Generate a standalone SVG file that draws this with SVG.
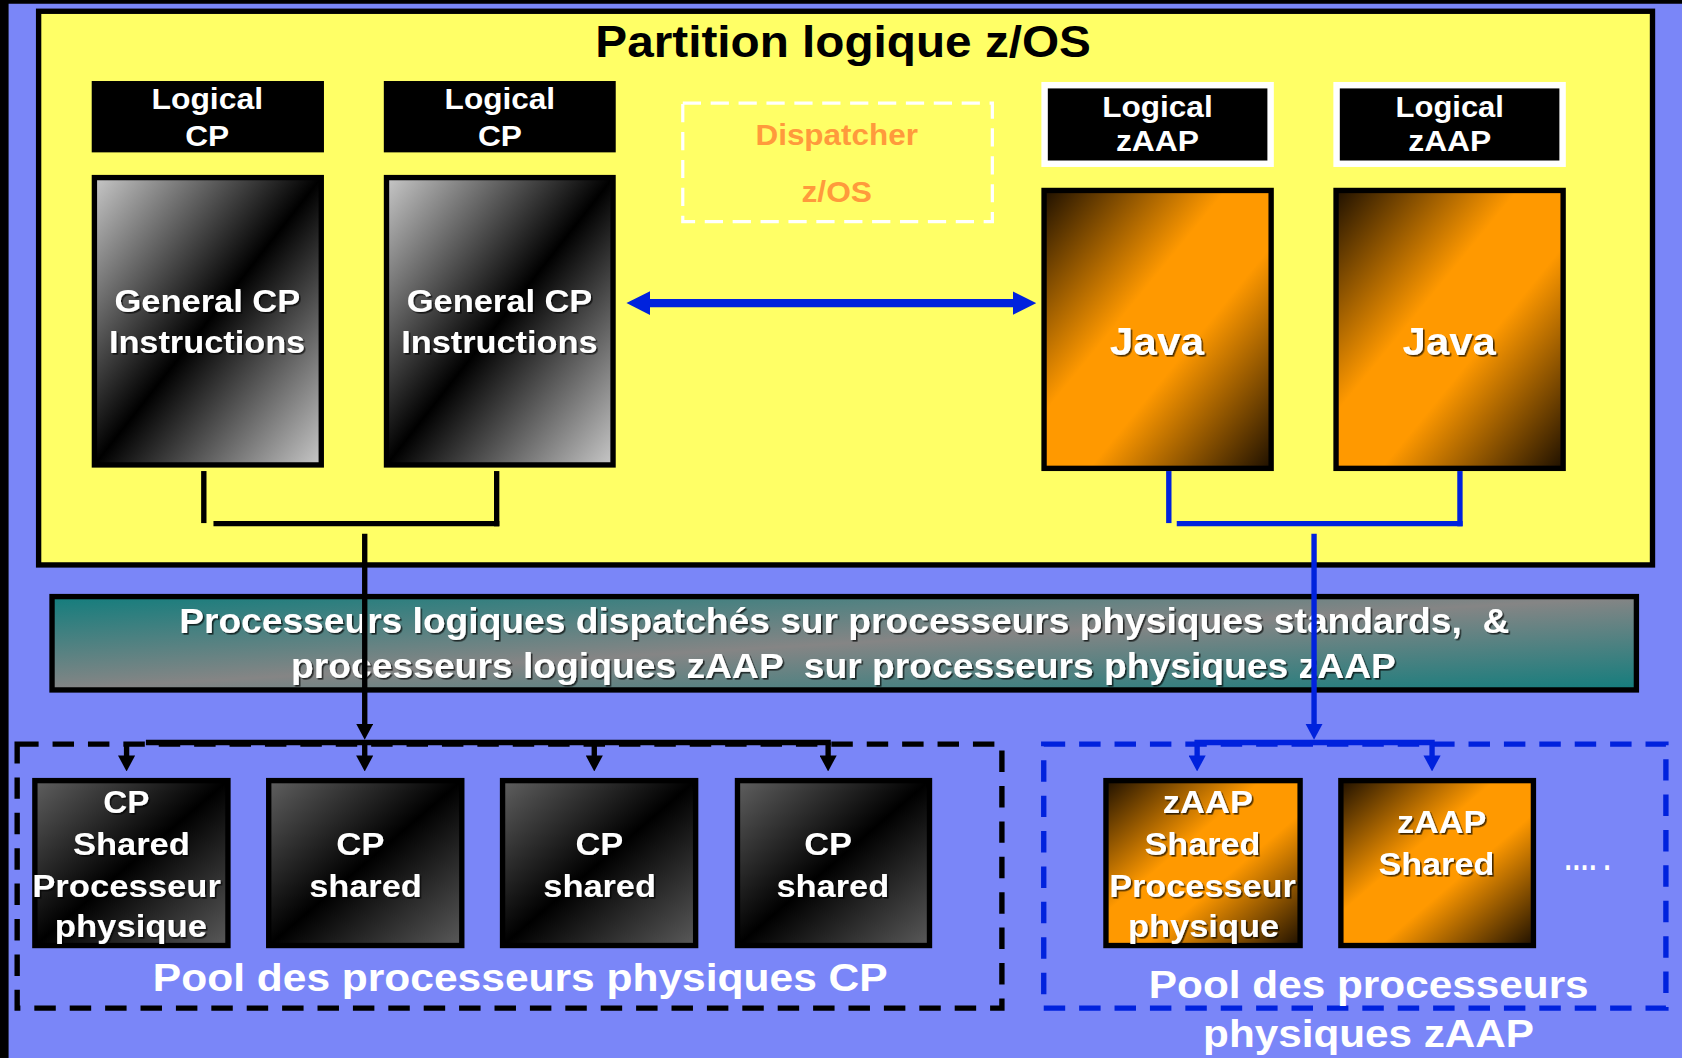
<svg xmlns="http://www.w3.org/2000/svg" width="1682" height="1058" viewBox="0 0 1682 1058">
<defs>
<style>
.t{font-family:"Liberation Sans",Arial,Helvetica,sans-serif;font-weight:bold;text-anchor:middle}
.w{fill:#FFFFFF}
.sh{filter:url(#sh)}
.pre{white-space:pre}
.box{stroke:#000;stroke-width:5}
.bl{fill:none;stroke:#000;stroke-width:5}
.bu{fill:none;stroke:#0022DD;stroke-width:5}
</style>
<linearGradient id="gGray" x1="0" y1="0" x2="1" y2="1"><stop offset="0" stop-color="#C8C8C8"/><stop offset="0.5" stop-color="#000000"/><stop offset="1" stop-color="#C8C8C8"/></linearGradient>
<linearGradient id="gDark" x1="0" y1="0" x2="1" y2="1"><stop offset="0" stop-color="#606060"/><stop offset="0.5" stop-color="#000000"/><stop offset="1" stop-color="#5A5A5A"/></linearGradient>
<linearGradient id="gOr" x1="0" y1="0" x2="1" y2="1"><stop offset="0" stop-color="#1E1000"/><stop offset="0.4" stop-color="#FF9900"/><stop offset="0.6" stop-color="#FF9900"/><stop offset="1" stop-color="#1E1000"/></linearGradient>
<linearGradient id="gTeal" x1="0" y1="0" x2="1" y2="1"><stop offset="0" stop-color="#137D7D"/><stop offset="0.5" stop-color="#858585"/><stop offset="1" stop-color="#137D7D"/></linearGradient>
<filter id="sh" x="-10%" y="-20%" width="120%" height="150%"><feDropShadow dx="1.5" dy="1.5" stdDeviation="0.6" flood-color="#000" flood-opacity="0.7"/></filter>
<marker id="ahK" markerUnits="userSpaceOnUse" viewBox="0 0 15 16" markerWidth="15" markerHeight="16" refX="7.5" refY="8" orient="auto"><path d="M0,0 L15,8 L0,16 Z" fill="#000"/></marker>
<marker id="ahB" markerUnits="userSpaceOnUse" viewBox="0 0 15 16" markerWidth="15" markerHeight="16" refX="7.5" refY="8" orient="auto"><path d="M0,0 L15,8 L0,16 Z" fill="#0022DD"/></marker>
<marker id="ahD" markerUnits="userSpaceOnUse" viewBox="0 0 22 22" markerWidth="22" markerHeight="22" refX="11" refY="11" orient="auto-start-reverse"><path d="M0,0 L22,11 L0,22 Z" fill="#0022DD"/></marker>
</defs>
<rect x="0" y="0" width="1682" height="1058" fill="#7A86F8"/>
<g transform="scale(1.0727,1.0730)">
<rect x="0" y="0" width="8" height="986" fill="#000"/>
<rect x="0" y="0" width="1568" height="3.5" fill="#000"/>

<g id="partition">
<rect x="36" y="10.5" width="1504.5" height="516" fill="#FFFF66" stroke="#000" stroke-width="5"/>
<text class="t" x="786" y="53" font-size="41" fill="#000" textLength="462" lengthAdjust="spacingAndGlyphs">Partition logique z/OS</text>
</g>

<g id="logical-cp-1">
<rect x="85.5" y="75.5" width="216.5" height="66.5" fill="#000"/>
<text class="t w" x="193.2" y="102" font-size="28" textLength="104" lengthAdjust="spacingAndGlyphs">Logical</text>
<text class="t w" x="193.2" y="136" font-size="28" textLength="41" lengthAdjust="spacingAndGlyphs">CP</text>
</g>
<g id="logical-cp-2">
<rect x="357.8" y="75.5" width="216.2" height="66.5" fill="#000"/>
<text class="t w" x="466" y="102" font-size="28" textLength="103" lengthAdjust="spacingAndGlyphs">Logical</text>
<text class="t w" x="466" y="136" font-size="28" textLength="41" lengthAdjust="spacingAndGlyphs">CP</text>
</g>
<g id="general-cp-1">
<rect class="box" x="88" y="165.5" width="211.5" height="267.8" fill="url(#gGray)"/>
<text class="t w sh" x="193.3" y="290.5" font-size="30" textLength="173" lengthAdjust="spacingAndGlyphs">General CP</text>
<text class="t w sh" x="193" y="329" font-size="30" textLength="183" lengthAdjust="spacingAndGlyphs">Instructions</text>
</g>
<g id="general-cp-2">
<rect class="box" x="360.3" y="165.5" width="211.2" height="267.8" fill="url(#gGray)"/>
<text class="t w sh" x="465.7" y="290.5" font-size="30" textLength="173" lengthAdjust="spacingAndGlyphs">General CP</text>
<text class="t w sh" x="465.5" y="329" font-size="30" textLength="183" lengthAdjust="spacingAndGlyphs">Instructions</text>
</g>
<g id="dispatcher">
<rect x="636.5" y="96.2" width="288.6" height="110.3" fill="none" stroke="#FFFFFF" stroke-width="3" stroke-dasharray="17 9"/>
<text class="t" x="780" y="135" font-size="27" fill="#FF9A3C" textLength="151.5" lengthAdjust="spacingAndGlyphs">Dispatcher</text>
<text class="t" x="780" y="188" font-size="27" fill="#FF9A3C" textLength="65.7" lengthAdjust="spacingAndGlyphs">z/OS</text>
</g>
<g id="logical-zaap-1">
<rect x="973.8" y="79.4" width="210.7" height="73.2" fill="#000" stroke="#FFFFFF" stroke-width="6"/>
<text class="t w" x="1079" y="109" font-size="28" textLength="103" lengthAdjust="spacingAndGlyphs">Logical</text>
<text class="t w" x="1079" y="141" font-size="28" textLength="77.4" lengthAdjust="spacingAndGlyphs">zAAP</text>
</g>
<g id="logical-zaap-2">
<rect x="1246" y="79.4" width="210.7" height="73.2" fill="#000" stroke="#FFFFFF" stroke-width="6"/>
<text class="t w" x="1351.5" y="109" font-size="28" textLength="101" lengthAdjust="spacingAndGlyphs">Logical</text>
<text class="t w" x="1351.5" y="141" font-size="28" textLength="77.4" lengthAdjust="spacingAndGlyphs">zAAP</text>
</g>
<g id="java-1">
<rect class="box" x="973.3" y="177.5" width="211.7" height="259" fill="url(#gOr)"/>
<text class="t w sh" x="1078.5" y="330.6" font-size="36" textLength="88" lengthAdjust="spacingAndGlyphs">Java</text>
</g>
<g id="java-2">
<rect class="box" x="1245.5" y="177.5" width="211.7" height="259" fill="url(#gOr)"/>
<text class="t w sh" x="1351" y="330.6" font-size="36" textLength="87" lengthAdjust="spacingAndGlyphs">Java</text>
</g>

<g id="banner">
<rect x="48.5" y="556" width="1477" height="87" fill="url(#gTeal)" stroke="#000" stroke-width="5"/>
<text class="t w sh pre" x="787" y="590" font-size="32" textLength="1240" lengthAdjust="spacingAndGlyphs">Processeurs logiques dispatchés sur processeurs physiques standards,  &amp;</text>
<text class="t w sh pre" x="786.3" y="632" font-size="32" textLength="1030" lengthAdjust="spacingAndGlyphs">processeurs logiques zAAP  sur processeurs physiques zAAP</text>
</g>

<g id="pool-cp">
<rect x="16" y="693.5" width="918" height="246" fill="none" stroke="#000" stroke-width="5" stroke-dasharray="20 13"/>
<text class="t w" x="485" y="924" font-size="37" textLength="685" lengthAdjust="spacingAndGlyphs">Pool des processeurs physiques CP</text>
</g>
<g id="cp-shared-1">
<rect class="box" x="32.5" y="727.5" width="180" height="153.7" fill="url(#gDark)"/>
<text class="t w sh" x="117.7" y="758" font-size="30" textLength="43" lengthAdjust="spacingAndGlyphs">CP</text>
<text class="t w sh" x="122.5" y="797" font-size="30" textLength="109" lengthAdjust="spacingAndGlyphs">Shared</text>
<text class="t w sh" x="118" y="836" font-size="30" textLength="176" lengthAdjust="spacingAndGlyphs">Processeur</text>
<text class="t w sh" x="122" y="873" font-size="30" textLength="142" lengthAdjust="spacingAndGlyphs">physique</text>
</g>
<g id="cp-shared-2">
<rect class="box" x="250.5" y="727.5" width="180" height="153.7" fill="url(#gDark)"/>
<text class="t w sh" x="336" y="797" font-size="30" textLength="45" lengthAdjust="spacingAndGlyphs">CP</text>
<text class="t w sh" x="340.7" y="836" font-size="30" textLength="105" lengthAdjust="spacingAndGlyphs">shared</text>
</g>
<g id="cp-shared-3">
<rect class="box" x="468.5" y="727.5" width="180" height="153.7" fill="url(#gDark)"/>
<text class="t w sh" x="558.7" y="797" font-size="30" textLength="44.6" lengthAdjust="spacingAndGlyphs">CP</text>
<text class="t w sh" x="559" y="836" font-size="30" textLength="105" lengthAdjust="spacingAndGlyphs">shared</text>
</g>
<g id="cp-shared-4">
<rect class="box" x="687.5" y="727.5" width="179" height="153.7" fill="url(#gDark)"/>
<text class="t w sh" x="772" y="797" font-size="30" textLength="44.5" lengthAdjust="spacingAndGlyphs">CP</text>
<text class="t w sh" x="776.4" y="836" font-size="30" textLength="105" lengthAdjust="spacingAndGlyphs">shared</text>
</g>

<g id="pool-zaap">
<rect x="973" y="693.5" width="580" height="246" fill="none" stroke="#0022DD" stroke-width="5" stroke-dasharray="20 13"/>
<text class="t w" x="1276" y="930" font-size="37" textLength="410" lengthAdjust="spacingAndGlyphs">Pool des processeurs</text>
<text class="t w" x="1275.8" y="975.5" font-size="37" textLength="308.5" lengthAdjust="spacingAndGlyphs">physiques zAAP</text>
<text class="t w" x="1479.5" y="811" font-size="30" textLength="44" lengthAdjust="spacingAndGlyphs">…. .</text>
</g>
<g id="zaap-shared-1">
<rect class="box" x="1031" y="727.5" width="181" height="153.7" fill="url(#gOr)"/>
<text class="t w sh" x="1126" y="758" font-size="30" textLength="84" lengthAdjust="spacingAndGlyphs">zAAP</text>
<text class="t w sh" x="1121" y="797" font-size="30" textLength="108" lengthAdjust="spacingAndGlyphs">Shared</text>
<text class="t w sh" x="1121" y="836" font-size="30" textLength="174" lengthAdjust="spacingAndGlyphs">Processeur</text>
<text class="t w sh" x="1122" y="873" font-size="30" textLength="141" lengthAdjust="spacingAndGlyphs">physique</text>
</g>
<g id="zaap-shared-2">
<rect class="box" x="1250" y="727.5" width="179.5" height="153.7" fill="url(#gOr)"/>
<text class="t w sh" x="1344" y="776.6" font-size="30" textLength="83.4" lengthAdjust="spacingAndGlyphs">zAAP</text>
<text class="t w sh" x="1339" y="815.5" font-size="30" textLength="108" lengthAdjust="spacingAndGlyphs">Shared</text>
</g>

<g id="connectors">
<line class="bl" x1="190" y1="439" x2="190" y2="487.5"/>
<line class="bl" x1="199" y1="488" x2="465.5" y2="488"/>
<line class="bl" x1="463" y1="439" x2="463" y2="490.5"/>
<line class="bl" x1="340" y1="497.5" x2="340" y2="682" marker-end="url(#ahK)"/>
<line class="bl" x1="136" y1="692" x2="774.5" y2="692"/>
<line class="bl" x1="118" y1="694" x2="118" y2="711.5" marker-end="url(#ahK)"/>
<line class="bl" x1="340" y1="692" x2="340" y2="711.5" marker-end="url(#ahK)"/>
<line class="bl" x1="554" y1="692" x2="554" y2="711.5" marker-end="url(#ahK)"/>
<line class="bl" x1="772" y1="692" x2="772" y2="711.5" marker-end="url(#ahK)"/>
<line class="bu" x1="1089.6" y1="439" x2="1089.6" y2="487.5"/>
<line class="bu" x1="1097" y1="488" x2="1363.5" y2="488"/>
<line class="bu" x1="1361" y1="439" x2="1361" y2="490.5"/>
<line class="bu" x1="1225" y1="497.5" x2="1225" y2="682" marker-end="url(#ahB)"/>
<line class="bu" x1="1113.5" y1="692" x2="1337.5" y2="692"/>
<line class="bu" x1="1116" y1="692" x2="1116" y2="711.5" marker-end="url(#ahB)"/>
<line class="bu" x1="1335" y1="692" x2="1335" y2="711.5" marker-end="url(#ahB)"/>
<line x1="595" y1="282.5" x2="955" y2="282.5" stroke="#0022DD" stroke-width="7.5" marker-start="url(#ahD)" marker-end="url(#ahD)"/>
</g>
</g>
</svg>
